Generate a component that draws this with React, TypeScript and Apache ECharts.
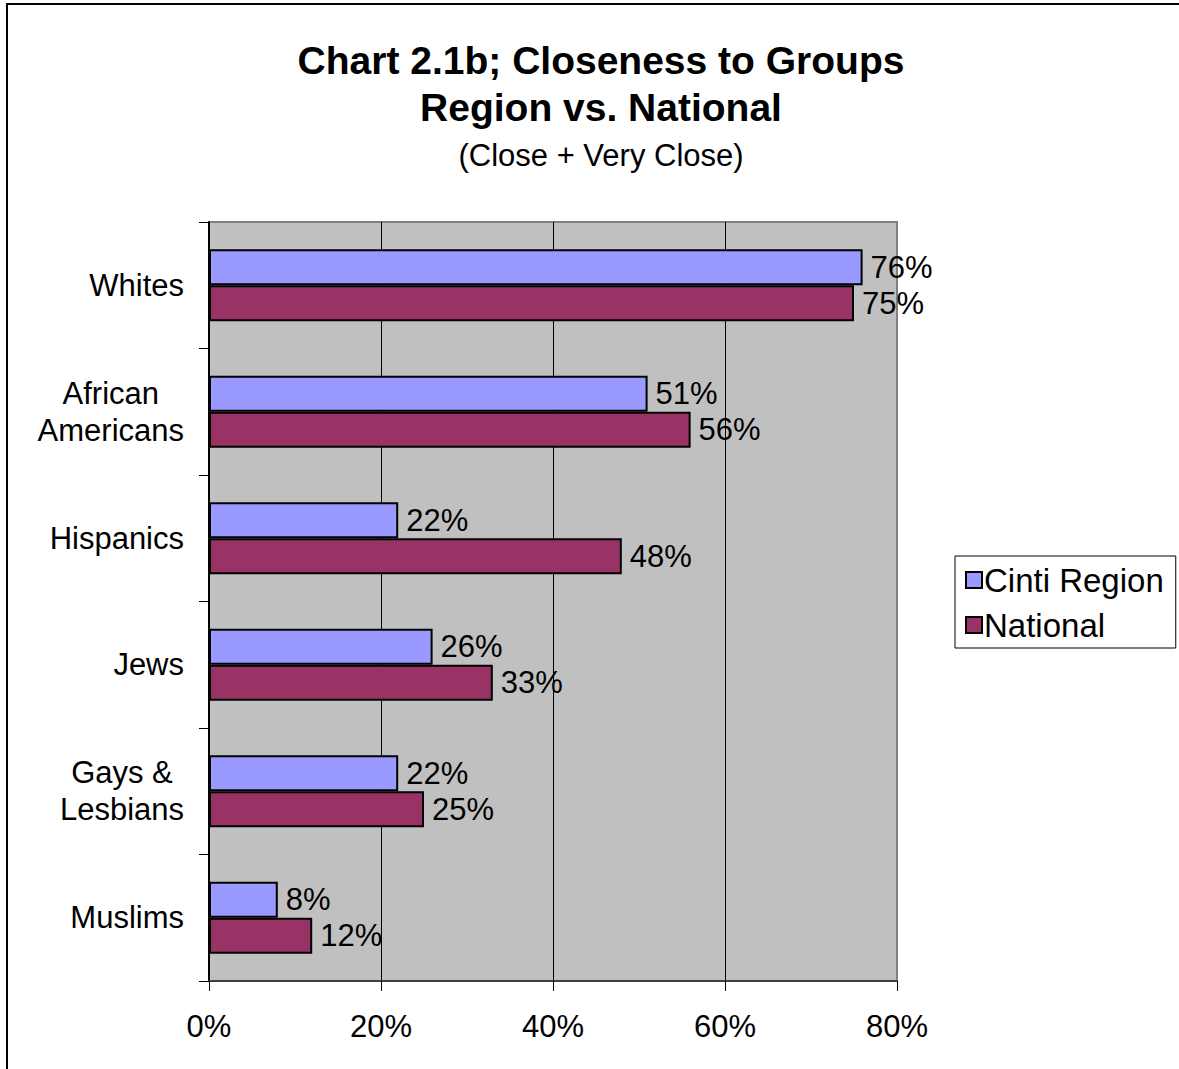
import React, { useEffect, useRef } from "react";
import * as echarts from "echarts";

const categories = ["Whites", "African\nAmericans", "Hispanics", "Jews", "Gays &\nLesbians", "Muslims"];
const cintiRegion = [76, 51, 22, 26, 22, 8];
const national = [75, 56, 48, 33, 25, 12];
const seriesNames = ["Cinti Region", "National"];
const titleLines = ["Chart 2.1b; Closeness to Groups", "Region vs. National"];
const subTitle = "(Close + Very Close)";

const FONT = "'Liberation Sans', Arial, Helvetica, sans-serif";

export default function App() {
  const ref = useRef<HTMLDivElement>(null);
  useEffect(() => {
    if (!ref.current) return;
    const chart = echarts.init(ref.current, undefined, { renderer: "svg" });
    const labelStyle = { fontSize: 31, color: "#000", fontFamily: FONT };
    chart.setOption({
      animation: false,
      backgroundColor: "#fff",
      graphic: [
        {
          type: "rect",
          shape: { x: 7, y: 4, width: 1300, height: 1200 },
          style: { fill: "none", stroke: "#000", lineWidth: 2 },
          silent: true,
        },
        {
          type: "text",
          x: 601,
          y: 60,
          style: { text: titleLines[0], align: "center", verticalAlign: "middle", fontSize: 39, fontWeight: "bold", fontFamily: FONT, fill: "#000" },
        },
        {
          type: "text",
          x: 601,
          y: 107,
          style: { text: titleLines[1], align: "center", verticalAlign: "middle", fontSize: 39, fontWeight: "bold", fontFamily: FONT, fill: "#000" },
        },
        {
          type: "text",
          x: 601,
          y: 155,
          style: { text: subTitle, align: "center", verticalAlign: "middle", fontSize: 31, fontFamily: FONT, fill: "#000" },
        },
      ],
      legend: {
        orient: "vertical",
        left: 955,
        top: 556,
        data: seriesNames,
        backgroundColor: "#fff",
        borderColor: "#000",
        borderWidth: 1,
        borderRadius: 0,
        padding: [5, 12, 4, 10],
        itemGap: 7,
        itemWidth: 16,
        itemHeight: 16,
        icon: "rect",
        itemStyle: { borderColor: "#000", borderWidth: 2 },
        textStyle: { fontSize: 33, color: "#000", fontFamily: FONT, lineHeight: 38, padding: [0, 0, 0, -3] },
      },
      grid: {
        left: 209,
        top: 222,
        right: 282,
        bottom: 88,
        show: true,
        backgroundColor: "#C0C0C0",
        borderColor: "#808080",
        borderWidth: 2,
      },
      xAxis: {
        type: "value",
        min: 0,
        max: 80,
        interval: 20,
        axisLine: { show: true, lineStyle: { color: "#404040", width: 2 } },
        axisTick: { show: true, length: 10, lineStyle: { color: "#000", width: 1 } },
        axisLabel: { ...labelStyle, margin: 30, formatter: "{value}%" },
        splitLine: { show: true, showMinLine: false, showMaxLine: false, lineStyle: { color: "#000", width: 1 } },
      },
      yAxis: {
        type: "category",
        inverse: true,
        data: categories,
        axisLine: { show: true, lineStyle: { color: "#000", width: 2 } },
        axisTick: { show: true, length: 10, alignWithLabel: false, lineStyle: { color: "#000", width: 1 } },
        splitLine: { show: false },
        axisLabel: {
          margin: 25,
          align: "right",
          formatter: (v: string) => v.split("\n").map((s) => `{c|${s}}`).join("\n"),
          rich: {
            c: { ...labelStyle, align: "center", lineHeight: 37 },
          },
        },
      },
      series: [
        {
          name: seriesNames[0],
          type: "bar",
          data: cintiRegion,
          barGap: "0%",
          barCategoryGap: "43%",
          itemStyle: { color: "#9999FF", borderColor: "#000", borderWidth: 2 },
          label: { show: true, position: "right", distance: 8, formatter: "{c}%", ...labelStyle },
        },
        {
          name: seriesNames[1],
          type: "bar",
          data: national,
          barGap: "0%",
          barCategoryGap: "43%",
          itemStyle: { color: "#993366", borderColor: "#000", borderWidth: 2 },
          label: { show: true, position: "right", distance: 8, formatter: "{c}%", ...labelStyle },
        },
      ],
    });
    return () => chart.dispose();
  }, []);
  return (
    <div
      ref={ref}
      style={{ position: "absolute", left: 0, top: 0, width: 1179, height: 1069 }}
    />
  );
}
